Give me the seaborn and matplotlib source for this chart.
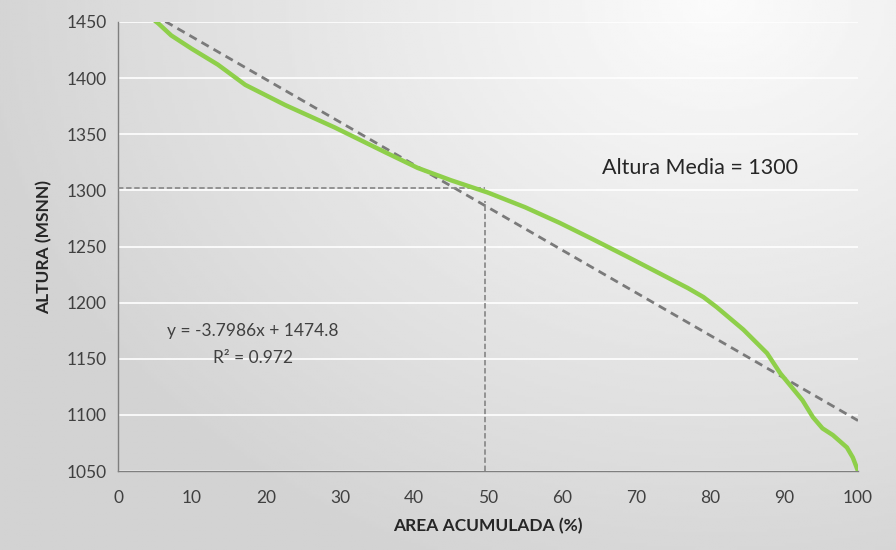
import numpy as np
import pandas as pd
import matplotlib
matplotlib.use("Agg")
import matplotlib.pyplot as plt
import seaborn as sns

# curva hipsometrica
area_pct = [5.0, 5.4, 7.2, 10.0, 13.5, 17.2, 22.6, 29.3, 36.1, 40.5, 45.0,
            50.0, 55.0, 59.7, 64.0, 68.8, 73.2, 77.0, 79.1, 80.9, 84.5, 87.7,
            89.5, 91.0, 92.5, 93.9, 95.2, 96.6, 98.5, 99.3, 100.0]
altura = [1451, 1449, 1438, 1426, 1412, 1394, 1376, 1356, 1334, 1320, 1309,
          1298, 1285, 1271, 1257, 1241, 1226, 1213, 1205, 1196, 1176, 1155,
          1137, 1125, 1113, 1098, 1088, 1082, 1071, 1062, 1050]

# tendencia lineal
slope = -3.7986
intercept = 1474.8
r2 = 0.972
trend_x = [6.4, 100.0]

# altura media
altura_media = 1300
area_media = 49.6

x_ticks = list(range(0, 101, 10))
y_ticks = list(range(1050, 1451, 50))

sns.set_style("white")
plt.rcParams["font.family"] = ["Lato", "DejaVu Sans"]

fig = plt.figure(figsize=(8.96, 5.5), dpi=100)

# fondo degradado
bg = fig.add_axes([0, 0, 1, 1], zorder=0)
gx, gy = np.meshgrid(np.linspace(0, 1, 300), np.linspace(0, 1, 200))
dist = np.sqrt(((gx - 0.8) * 1.0) ** 2 + ((gy - 0.0) * 0.75) ** 2)
shade = 0.985 - 0.16 * np.clip(dist / 0.85, 0, 1)
bg.imshow(shade, cmap="gray", vmin=0, vmax=1, aspect="auto", extent=[0, 1, 1, 0])
bg.set_axis_off()

ax = fig.add_axes([0.1317, 0.1436, 0.8259, 0.8164], zorder=1)
ax.set_facecolor("none")

df = pd.DataFrame({"area": area_pct, "altura": altura})
sns.lineplot(data=df, x="area", y="altura", ax=ax, color="#8ecf4a", linewidth=3.2,
             sort=False, zorder=4)

trend_y = [slope * v + intercept for v in trend_x]
ax.plot(trend_x, trend_y, color="#7a7a7a", linestyle=(0, (3, 2)), linewidth=2.0, zorder=3)

ax.plot([0, area_media], [altura_media + 2, altura_media + 2], color="#8c8c8c",
        linestyle=(0, (3, 1.5)), linewidth=1.3, zorder=3)
ax.plot([area_media, area_media], [1050, slope * area_media + intercept + 4], color="#8c8c8c",
        linestyle=(0, (3, 1.5)), linewidth=1.3, zorder=3)

ax.set_xlim(0, 100)
ax.set_ylim(1050, 1450)
ax.set_xticks(x_ticks)
ax.set_yticks(y_ticks)
ax.yaxis.grid(True, color="white", linewidth=1.2)
ax.xaxis.grid(False)
ax.set_axisbelow(True)

for s in ["top", "right"]:
    ax.spines[s].set_visible(False)
for s in ["left", "bottom"]:
    ax.spines[s].set_color("#7f7f7f")
    ax.spines[s].set_linewidth(1.0)

ax.tick_params(axis="both", length=0, labelsize=12.5, colors="#404040")
ax.tick_params(axis="x", pad=14)
ax.tick_params(axis="y", pad=8)

ax.set_xlabel("AREA ACUMULADA (%)", fontsize=12.5, fontweight="bold", color="#262626", labelpad=8)
ax.set_ylabel("ALTURA (MSNN)", fontsize=12.5, fontweight="bold", color="#262626", labelpad=10)

ax.text(78.6, 1320, f"Altura Media = {altura_media}", fontsize=15.5, color="#262626",
        ha="center", va="center")
ax.text(18.2, 1175, f"y = {slope}x + {intercept}", fontsize=12.5, color="#404040",
        ha="center", va="center")
ax.text(18.2, 1151, f"R² = {r2}", fontsize=12.5, color="#404040", ha="center", va="center")

fig.savefig("out.png", dpi=100)
